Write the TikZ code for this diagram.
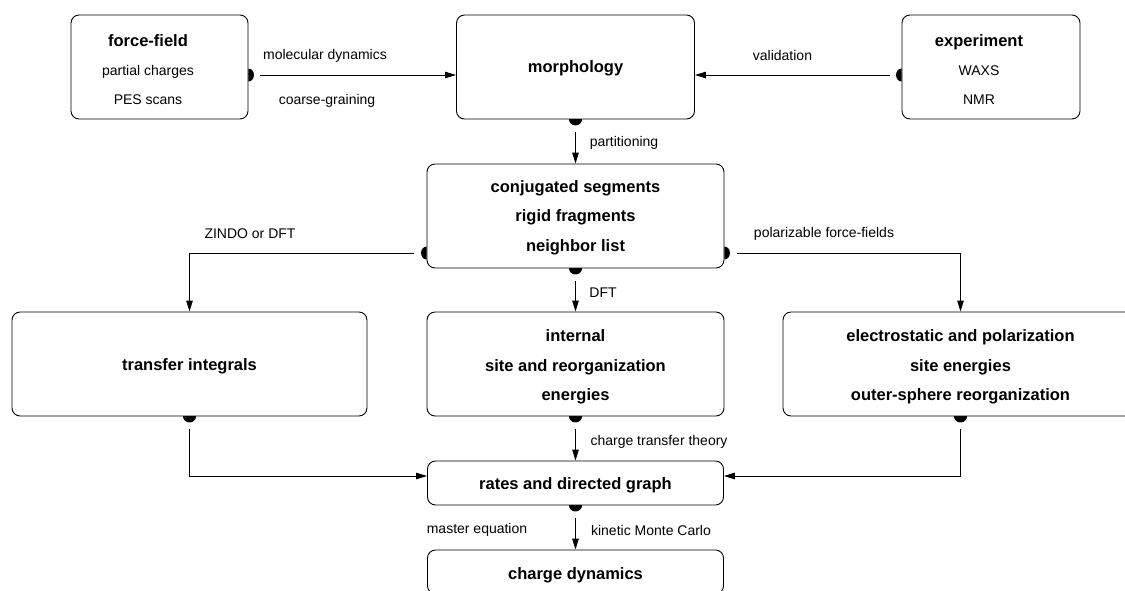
\documentclass[tikz,border=0pt]{standalone}
\usepackage{fontspec}
\setmainfont{Liberation Sans}
\usetikzlibrary{arrows.meta,calc}
% half-disc markers (clip a filled ellipse to the outer side of the box edge)
\newcommand\mkS[1]{\begin{scope}\clip ($(#1)+(-8,0)$) rectangle ($(#1)+(8,8)$);\fill (#1) ellipse[x radius=6.5pt,y radius=6pt];\end{scope}}
\newcommand\mkE[1]{\begin{scope}\clip ($(#1)+(0,-8)$) rectangle ($(#1)+(8,8)$);\fill (#1) ellipse[x radius=5.5pt,y radius=6.5pt];\end{scope}}
\newcommand\mkW[1]{\begin{scope}\clip ($(#1)+(0,-8)$) rectangle ($(#1)+(-8,8)$);\fill (#1) ellipse[x radius=5.5pt,y radius=6.5pt];\end{scope}}
\begin{document}
\begin{tikzpicture}[x=1pt,y=-1pt,
  box/.style={draw, line width=0.9pt, rounded corners=8pt, fill=white, inner sep=0pt},
  bigbox/.style={box, minimum width=297pt, minimum height=104pt},
  sidebox/.style={box, minimum width=355pt, minimum height=104pt},
  smallbox/.style={box, minimum width=296pt, minimum height=44pt},
  lbl/.style={font=\fontsize{14}{16}\selectfont, inner sep=0pt},
  btxt/.style={font=\bfseries\fontsize{16.5}{29.5}\selectfont, align=center, inner sep=0pt},
  mtxt/.style={font=\fontsize{14}{29}\selectfont, align=center, inner sep=0pt},
  conn/.style={line width=0.9pt, -{Triangle[length=11pt,width=6.5pt]}},
]
\useasboundingbox (0,0) rectangle (1125,590);

% boxes
\node[box, minimum width=177pt, minimum height=104pt] (ff) at (159.5,67) {};
\node[box, minimum width=238pt, minimum height=104pt] (morph) at (575.5,67) {};
\node[box, minimum width=178pt, minimum height=104pt] (exp) at (991,67) {};
\node[bigbox] (conj) at (575.5,216) {};
\node[sidebox] (trans) at (189.5,364) {};
\node[bigbox] (int) at (575.5,364) {};
\node[sidebox] (elec) at (960.5,364) {};
\node[smallbox] (rates) at (575.5,483) {};
\node[smallbox] (cd) at (575.5,572) {};

% box texts
\node[mtxt] (fft) at (148,70) {{\bfseries\fontsize{16.5}{29}\selectfont force-field}\\partial charges\\PES scans};
\node[btxt] (morpht) at (575.5,68) {morphology};
\node[mtxt] (expt) at (979,70) {{\bfseries\fontsize{16.5}{29}\selectfont experiment}\\WAXS\\NMR};
\node[btxt] (conjt) at (575.5,217.5) {conjugated segments\\rigid fragments\\neighbor list};
\node[btxt] (transt) at (189.5,366.5) {transfer integrals};
\node[btxt] (intt) at (575.5,367) {internal\\site and reorganization\\energies};
\node[btxt] (elect) at (960.5,367) {electrostatic and polarization\\site energies\\outer-sphere reorganization};
\node[btxt] (ratest) at (575.5,485) {rates and directed graph};
\node[btxt] (cdt) at (575.5,575) {charge dynamics};

% helper rows and marker points
\coordinate (r75) at (0,75);
\coordinate (r253) at (0,253);
\coordinate (ffm) at (ff.east |- r75);
\coordinate (expm) at (exp.west |- r75);
\coordinate (conjwm) at (conj.west |- r253);
\coordinate (conjem) at (conj.east |- r253);

% markers (half discs)
\mkE{ffm}
\mkW{expm}
\mkS{morph.south}
\mkW{conjwm}
\mkE{conjem}
\mkS{conj.south}
\mkS{trans.south}
\mkS{int.south}
\mkS{elec.south}
\mkS{rates.south}

% connectors
\draw[conn] ($(ffm)+(12,0)$) -- (morph.west |- r75);
\draw[conn] ($(expm)+(-12,0)$) -- (morph.east |- r75);
\draw[conn] ($(morph.south)+(0,13)$) -- (conj.north);
\draw[conn] ($(conjwm)+(-13,0)$) -| (trans.north);
\draw[conn] ($(conjem)+(13,0)$) -| (elec.north);
\draw[conn] ($(conj.south)+(0,13)$) -- (int.north);
\draw[conn] ($(trans.south)+(0,13)$) |- ($(rates.west)+(0,-7)$);
\draw[conn] ($(elec.south)+(0,13)$) |- ($(rates.east)+(0,-7)$);
\draw[conn] ($(int.south)+(0,13)$) -- (rates.north);
\draw[conn] ($(rates.south)+(0,13)$) -- (cd.north);

% connector labels
\node[lbl] (l1) at (325,56) {molecular dynamics};
\node[lbl] (l2) at (327,101) {coarse-graining};
\node[lbl] (l3) at (782.5,55) {validation};
\node[lbl] (l4) at (624,143) {partitioning};
\node[lbl] (l5) at (250,234) {ZINDO or DFT};
\node[lbl] (l6) at (824,234) {polarizable force-fields};
\node[lbl] (l7) at (603,293) {DFT};
\node[lbl] (l8) at (659,442) {charge transfer theory};
\node[lbl] (l9) at (477,530) {master equation};
\node[lbl] (l10) at (651,530) {kinetic Monte Carlo};
\end{tikzpicture}
\end{document}
